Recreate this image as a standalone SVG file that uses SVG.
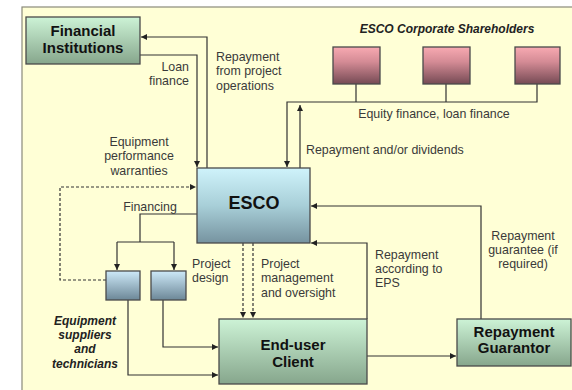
<svg xmlns="http://www.w3.org/2000/svg" width="572" height="390" viewBox="0 0 572 390">
<defs>
<linearGradient id="gGreen" x1="0" y1="0" x2="0" y2="1"><stop offset="0" stop-color="#cdf3d6"/><stop offset="1" stop-color="#86a68c"/></linearGradient>
<linearGradient id="gBlue" x1="0" y1="0" x2="0" y2="1"><stop offset="0" stop-color="#cff3fb"/><stop offset="0.5" stop-color="#a8cfd8"/><stop offset="1" stop-color="#7693a0"/></linearGradient>
<linearGradient id="gSmallBlue" x1="0" y1="0" x2="0" y2="1"><stop offset="0" stop-color="#cde9f8"/><stop offset="1" stop-color="#6c8797"/></linearGradient>
<linearGradient id="gPink" x1="0" y1="0" x2="0" y2="1"><stop offset="0" stop-color="#f8aab2"/><stop offset="0.4" stop-color="#d48b95"/><stop offset="1" stop-color="#754a54"/></linearGradient>
<marker id="ah" viewBox="0 0 10 10" refX="10" refY="5" markerWidth="6" markerHeight="6" orient="auto" markerUnits="userSpaceOnUse"><path d="M0,0 L10,5 L0,10 z" fill="#222"/></marker>
</defs>
<style>
.lbl{font-family:"Liberation Sans",Arial,sans-serif;font-size:12.4px;fill:#3a3a3a}
.ttl{font-family:"Liberation Sans",Arial,sans-serif;font-weight:bold;fill:#111}
.it{font-family:"Liberation Sans",Arial,sans-serif;font-weight:bold;font-style:italic;font-size:12px;fill:#222}
.ln{fill:none;stroke:#333;stroke-width:1.2}
.dash{fill:none;stroke:#333;stroke-width:1.2;stroke-dasharray:3,2}
.box{stroke:#4a4a4a;stroke-width:1.3}
</style>
<rect x="0" y="0" width="572" height="390" fill="#ffffff"/>
<rect x="22" y="7" width="560" height="393" fill="#ffffd6" stroke="#8a8a7a" stroke-width="1.2"/>

<g id="connectors">
<path class="ln" d="M207,168 V37 H141" marker-end="url(#ah)"/>
<path class="ln" d="M140,55 H197 V167" marker-end="url(#ah)"/>
<path class="ln" d="M356,84 V102 M446,84 V102 M537,84 V102 H287 V167" marker-end="url(#ah)"/>
<path class="ln" d="M300,168 V105" marker-end="url(#ah)"/>
<path class="dash" d="M106,280 H60 V187 H196" marker-end="url(#ah)"/>
<path class="ln" d="M197,214 H140 V242"/>
<path class="ln" d="M117,242 H174"/>
<path class="ln" d="M117,242 V270" marker-end="url(#ah)"/>
<path class="ln" d="M174,242 V270" marker-end="url(#ah)"/>
<path class="dash" d="M243,243 V318" marker-end="url(#ah)"/>
<path class="dash" d="M253,243 V318" marker-end="url(#ah)"/>
<path class="ln" d="M163,300 V347 H218" marker-end="url(#ah)"/>
<path class="ln" d="M128,300 V375 H218" marker-end="url(#ah)"/>
<path class="ln" d="M367,319 V243 H311" marker-end="url(#ah)"/>
<path class="ln" d="M481,319 V206 H311" marker-end="url(#ah)"/>
<path class="ln" d="M367,356 H456" marker-end="url(#ah)"/>
</g>

<g id="financial-institutions">
<rect class="box" x="26" y="17" width="114" height="47" fill="url(#gGreen)"/>
<text class="ttl" font-size="15" text-anchor="middle" x="83" y="36">Financial</text>
<text class="ttl" font-size="15" text-anchor="middle" x="83" y="53">Institutions</text>
</g>

<g id="shareholders">
<text class="it" font-size="12.5" text-anchor="middle" x="447" y="33">ESCO Corporate Shareholders</text>
<rect class="box" x="333" y="47" width="47" height="37" fill="url(#gPink)" stroke="#4a3038"/>
<rect class="box" x="423" y="47" width="47" height="37" fill="url(#gPink)" stroke="#4a3038"/>
<rect class="box" x="515" y="47" width="45" height="37" fill="url(#gPink)" stroke="#4a3038"/>
</g>

<g id="esco">
<rect class="box" x="197" y="168" width="113" height="75" fill="url(#gBlue)"/>
<text class="ttl" font-size="18" text-anchor="middle" x="254" y="209">ESCO</text>
</g>

<g id="suppliers">
<rect class="box" x="106" y="271" width="34" height="29" fill="url(#gSmallBlue)"/>
<rect class="box" x="151" y="271" width="35" height="29" fill="url(#gSmallBlue)"/>
<text class="it" text-anchor="middle" x="85" y="325">Equipment</text>
<text class="it" text-anchor="middle" x="85" y="339">suppliers</text>
<text class="it" text-anchor="middle" x="85" y="353">and</text>
<text class="it" text-anchor="middle" x="85" y="368">technicians</text>
</g>

<g id="end-user">
<rect class="box" x="219" y="319" width="148" height="65" fill="url(#gGreen)"/>
<text class="ttl" font-size="15" text-anchor="middle" x="293" y="350">End-user</text>
<text class="ttl" font-size="15" text-anchor="middle" x="293" y="367">Client</text>
</g>

<g id="guarantor">
<rect class="box" x="457" y="319" width="114" height="47" fill="url(#gGreen)"/>
<text class="ttl" font-size="15" text-anchor="middle" x="514" y="337">Repayment</text>
<text class="ttl" font-size="15" text-anchor="middle" x="514" y="353">Guarantor</text>
</g>

<g id="labels">
<text class="lbl" text-anchor="end" x="189" y="71">Loan</text>
<text class="lbl" text-anchor="end" x="189" y="85">finance</text>
<text class="lbl" x="216" y="61">Repayment</text>
<text class="lbl" x="216" y="75">from project</text>
<text class="lbl" x="216" y="90">operations</text>
<text class="lbl" text-anchor="middle" x="139" y="146">Equipment</text>
<text class="lbl" text-anchor="middle" x="139" y="160">performance</text>
<text class="lbl" text-anchor="middle" x="139" y="175">warranties</text>
<text class="lbl" text-anchor="middle" x="434" y="118">Equity finance, loan finance</text>
<text class="lbl" x="306" y="154">Repayment and/or dividends</text>
<text class="lbl" text-anchor="middle" x="150" y="211">Financing</text>
<text class="lbl" x="192" y="268">Project</text>
<text class="lbl" x="192" y="282">design</text>
<text class="lbl" x="261" y="268">Project</text>
<text class="lbl" x="261" y="282">management</text>
<text class="lbl" x="261" y="297">and oversight</text>
<text class="lbl" x="375" y="259">Repayment</text>
<text class="lbl" x="375" y="273">according to</text>
<text class="lbl" x="375" y="287">EPS</text>
<text class="lbl" text-anchor="middle" x="523" y="240">Repayment</text>
<text class="lbl" text-anchor="middle" x="523" y="254">guarantee (if</text>
<text class="lbl" text-anchor="middle" x="523" y="268">required)</text>
</g>
</svg>
